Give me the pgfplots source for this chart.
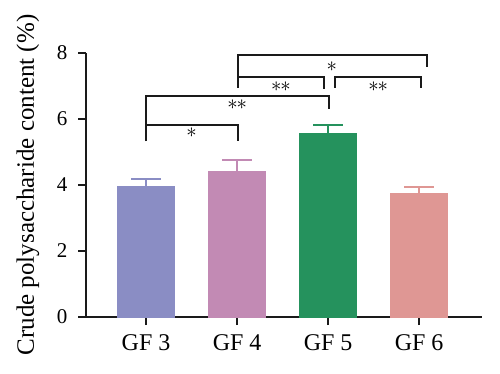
\documentclass[border=0pt]{standalone}
\usepackage{pgfplots}
\pgfplotsset{compat=1.18}
\usepackage{fontspec}
\setmainfont{Liberation Serif}
\definecolor{cA}{HTML}{8A8DC4}
\definecolor{cB}{HTML}{C28AB4}
\definecolor{cC}{HTML}{25925D}
\definecolor{cD}{HTML}{DF9794}
\definecolor{ln}{HTML}{1A1A1A}
\begin{document}
\begin{tikzpicture}
\begin{axis}[
  scale only axis, width=396pt, height=264pt,
  xmin=-0.66, xmax=3.69, ymin=0, ymax=8,
  axis x line*=bottom, axis y line*=left,
  axis line style={line width=1.8pt, ln},
  tick style={line width=1.8pt, ln}, tick align=outside, major tick length=8pt,
  xtick={0,1,2,3}, xticklabels={GF 3, GF 4, GF 5, GF 6},
  ytick={0,2,4,6,8},
  /pgf/number format/assume math mode=true,
  yticklabel style={font=\fontsize{21}{24}\selectfont, xshift=-7pt},
  xticklabel style={font=\fontsize{24}{28}\selectfont, yshift=-6pt},
  ylabel={Crude polysaccharide content (\%)},
  every axis y label/.style={at={(axis description cs:0,0.5)}, rotate=90, anchor=center, yshift=58pt, font=\fontsize{25}{28}\selectfont},
  clip=false,
  ybar, bar width=57pt,
  error bars/y dir=plus, error bars/y explicit,
]
\addplot[bar shift=0pt, fill=cA, draw=cA, error bars/error bar style={line width=2pt, cA}, error bars/error mark options={rotate=90, mark size=15pt, line width=2pt, cA}] coordinates {(0,3.95) +- (0,0.23)};
\addplot[bar shift=0pt, fill=cB, draw=cB, error bars/error bar style={line width=2pt, cB}, error bars/error mark options={rotate=90, mark size=15pt, line width=2pt, cB}] coordinates {(1,4.42) +- (0,0.34)};
\addplot[bar shift=0pt, fill=cC, draw=cC, error bars/error bar style={line width=2pt, cC}, error bars/error mark options={rotate=90, mark size=15pt, line width=2pt, cC}] coordinates {(2,5.57) +- (0,0.26)};
\addplot[bar shift=0pt, fill=cD, draw=cD, error bars/error bar style={line width=2pt, cD}, error bars/error mark options={rotate=90, mark size=15pt, line width=2pt, cD}] coordinates {(3,3.75) +- (0,0.18)};
% significance brackets
\addplot[sharp plot, no marks, ln, line width=2pt] coordinates {(0,5.33) (0,5.82) (1.01,5.82) (1.01,5.33)};
\addplot[sharp plot, no marks, ln, line width=2pt] coordinates {(0,5.33) (0,6.71) (2.01,6.71) (2.01,6.30)};
\addplot[sharp plot, no marks, ln, line width=2pt] coordinates {(1.01,6.94) (1.01,7.28) (1.95,7.28) (1.95,6.92)};
\addplot[sharp plot, no marks, ln, line width=2pt] coordinates {(1.01,6.94) (1.01,7.94) (3.09,7.94) (3.09,7.58)};
\addplot[sharp plot, no marks, ln, line width=2pt] coordinates {(2.08,6.94) (2.08,7.28) (3.02,7.28) (3.02,6.94)};
\node[font=\fontsize{22}{22}\selectfont, inner sep=0pt] at (axis cs:0.50,5.58) {$\ast$};
\node[font=\fontsize{22}{22}\selectfont, inner sep=0pt] at (axis cs:1.00,6.42) {${\ast}\mkern-1mu{\ast}$};
\node[font=\fontsize{22}{22}\selectfont, inner sep=0pt] at (axis cs:1.48,6.97) {${\ast}\mkern-1mu{\ast}$};
\node[font=\fontsize{22}{22}\selectfont, inner sep=0pt] at (axis cs:2.04,7.60) {$\ast$};
\node[font=\fontsize{22}{22}\selectfont, inner sep=0pt] at (axis cs:2.55,6.97) {${\ast}\mkern-1mu{\ast}$};
\end{axis}
\path[use as bounding box] ([shift={(-86pt,-56pt)}]current axis.south west) rectangle ([shift={(414pt,317pt)}]current axis.south west);
\end{tikzpicture}
\end{document}
